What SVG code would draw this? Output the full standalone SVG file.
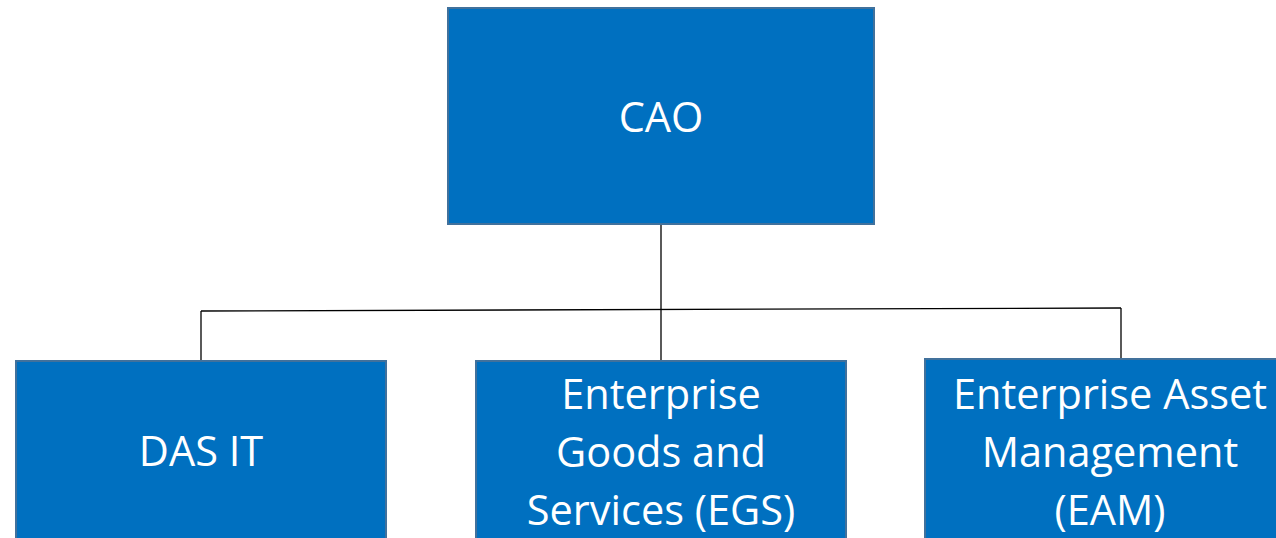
<svg xmlns="http://www.w3.org/2000/svg" width="1276" height="538" viewBox="0 0 1276 538">
<style>
.box{fill:#0070C0;stroke:#41719C;stroke-width:2}
.lbl{font-family:"Open Sans","Liberation Sans",sans-serif;font-size:41.5px;fill:#FFFFFF;text-anchor:middle}
.conn{stroke:#000000;stroke-width:1.3;fill:none}
</style>
<rect width="1276" height="538" fill="#FFFFFF"/>
<g id="connectors">
<line class="conn" x1="661" y1="224" x2="661" y2="361"/>
<line class="conn" x1="201" y1="311" x2="1121" y2="308"/>
<line class="conn" x1="201" y1="311" x2="201" y2="361"/>
<line class="conn" x1="1121" y1="308" x2="1121" y2="359"/>
</g>
<g id="cao">
<rect class="box" x="448" y="8" width="426" height="216"/>
<text class="lbl" x="661" y="132">CAO</text>
</g>
<g id="dasit">
<rect class="box" x="16" y="361" width="370" height="200"/>
<text class="lbl" x="201" y="466">DAS IT</text>
</g>
<g id="egs">
<rect class="box" x="476" y="361" width="370" height="200"/>
<text class="lbl" x="661" y="409">Enterprise</text>
<text class="lbl" x="661" y="467">Goods and</text>
<text class="lbl" x="661" y="525">Services (EGS)</text>
</g>
<g id="eam">
<rect class="box" x="925" y="359" width="370" height="200"/>
<text class="lbl" x="1110" y="409">Enterprise Asset</text>
<text class="lbl" x="1110" y="467">Management</text>
<text class="lbl" x="1110" y="525">(EAM)</text>
</g>
</svg>
